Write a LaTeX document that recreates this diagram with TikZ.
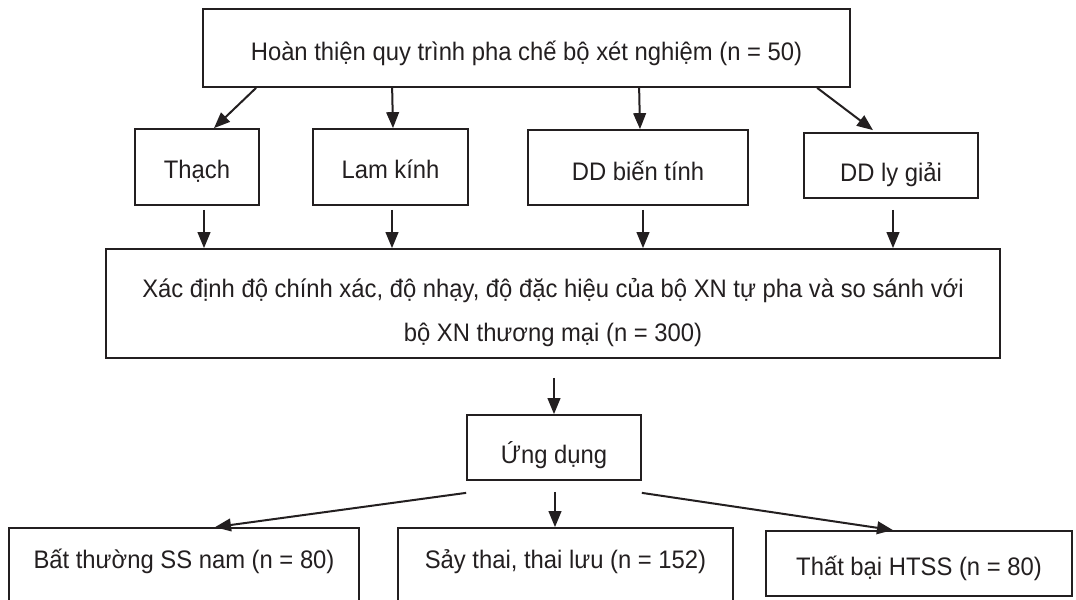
\documentclass[tikz,border=0pt]{standalone}
\usepackage{fontspec}
\setmainfont[FakeStretch=0.94]{Liberation Sans}
\usetikzlibrary{arrows.meta,calc}
\definecolor{ink}{HTML}{231F20}
\begin{document}
\begin{tikzpicture}[x=0.75pt,y=-0.75pt,
  box/.style={draw=ink,line width=1.3pt,inner sep=0pt,text=ink,font=\fontsize{19}{24}\selectfont,align=center,text depth=3pt,text height=20.35pt},
  txt/.style={inner sep=0pt,text=ink,font=\fontsize{19}{33}\selectfont,align=center},
  arr/.style={draw=ink,line width=1.5pt,-{Triangle[length=12pt,width=9.5pt]}}]
\useasboundingbox (0,0) rectangle (1076,600);
\clip (0,0) rectangle (1076,600);
\fill[white] (0,0) rectangle (1076,600);

\node[box,text height=21.1pt,minimum width=485.25pt,minimum height=58.5pt] (top) at (526.5,48) {Hoàn thiện quy trình pha chế bộ xét nghiệm (n = 50)};

\node[box,minimum width=93pt,minimum height=57pt] (thach) at (197,167) {Thạch};
\node[box,minimum width=116.25pt,minimum height=57pt] (lam) at (390.5,167) {Lam kính};
\node[box,text height=21.85pt,minimum width=165pt,minimum height=56.25pt] (bien) at (638,167.5) {DD biến tính};
\node[box,text height=26.35pt,minimum width=130.5pt,minimum height=48.75pt] (ly) at (891,165.5) {DD ly giải};

\node[box,minimum width=670.5pt,minimum height=81.75pt] (big) at (553,303.5) {};
\node[txt] (bigtxt) at (553,313)
  {Xác định độ chính xác, độ nhạy, độ đặc hiệu của bộ XN tự pha và so sánh với\\bộ XN thương mại (n = 300)};

\node[box,text height=27.1pt,minimum width=130.5pt,minimum height=48.75pt] (ung) at (554,447.5) {Ứng dụng};

\node[box,text depth=15pt,text height=9.1pt,minimum width=262.5pt,minimum height=66pt] (bat) at (184,572) {Bất thường SS nam (n = 80)};
\node[box,text depth=15pt,text height=9.1pt,minimum width=251.25pt,minimum height=66pt] (say) at (565.5,572) {Sảy thai, thai lưu (n = 152)};
\node[box,minimum width=229.5pt,minimum height=48.75pt] (that) at (919,563.5) {Thất bại HTSS (n = 80)};

% top to row 2
\draw[arr] ($(top.south west)+(54,0)$) -- ($(thach.north)+(17,0)$);
\draw[arr] ($(top.south west)+(190,0)$) -- ($(lam.north)+(2.5,0)$);
\draw[arr] ($(top.south west)+(437,0)$) -- ($(bien.north)+(2,0)$);
\draw[arr] ($(top.south west)+(615,0)$) -- ($(ly.north)+(-18,-2)$);

% row 2 to big
\path ($(thach.south)+(7,4)$) coordinate (s1)
      ($(lam.south)+(1.5,4)$) coordinate (s2)
      ($(bien.south)+(5,4)$) coordinate (s3)
      ($(ly.south)+(2,11)$) coordinate (s4)
      ($(big.south)+(1,19)$) coordinate (s5)
      ($(ung.south)+(1,11)$) coordinate (s6);
\draw[arr] (s1) -- (s1 |- big.north);
\draw[arr] (s2) -- (s2 |- big.north);
\draw[arr] (s3) -- (s3 |- big.north);
\draw[arr] (s4) -- (s4 |- big.north);

% big to ung
\draw[arr] (s5) -- (s5 |- ung.north);

% ung to bottom
\draw[arr] ($(ung.south west)+(0,12)$) -- ($(bat.north)+(31,0)$);
\draw[arr] (s6) -- (s6 |- say.north);
\draw[arr] ($(ung.south east)+(0,12)$) -- ($(that.north)+(-26,0)$);
\end{tikzpicture}
\end{document}
